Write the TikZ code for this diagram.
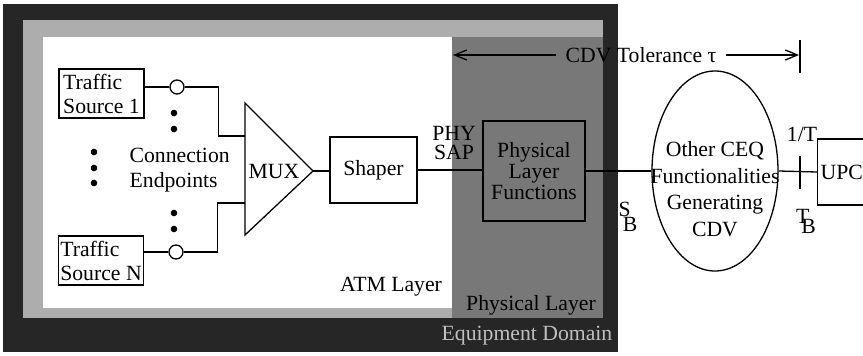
\documentclass[tikz,border=0pt]{standalone}
\usepackage{fontspec}
\setmainfont{Liberation Serif}
\usetikzlibrary{arrows.meta,shapes.geometric}

\definecolor{domaingray}{gray}{0.15}
\definecolor{physgray}{gray}{0.47}
\definecolor{bandgray}{gray}{0.68}

\tikzset{
	box/.style={draw,line width=1.3pt,inner sep=0pt},
	srcbox/.style={box,minimum width=85pt,minimum height=49pt,align=left,font=\fontsize{21.7}{24}\selectfont},
	port/.style={circle,draw,fill=white,line width=1.3pt,minimum size=14pt,inner sep=0pt},
	label/.style={inner sep=0pt,align=center}
}

\begin{document}
\begin{tikzpicture}[x=1pt,y=-1pt,line width=1.3pt,font=\fontsize{21.7}{25}\selectfont]
	
	\useasboundingbox (0,0) rectangle (863,356);
	\clip (0,0) rectangle (863,356);
	
	\fill[domaingray] (3,4) rectangle (618,352);
	\fill[bandgray] (23,20) rectangle (603,318);
	\fill[physgray] (452,37) rectangle (603,318);
	\fill[white] (43,37) rectangle (452,308);
	
	\node[label,text=gray!50] (domain) at (527,336) {Equipment Domain};
	\node[label] (phylayer) at (531,305) {Physical Layer};
	\node[label] (atmlayer) at (391,287) {ATM Layer};
	
	\node[srcbox] (src1) at (101.5,93.5) {Traffic\\Source 1};
	\node[srcbox] (srcN) at (101,260.5) {Traffic\\Source N};
	\node[port] (port1) at (177,87) {};
	\node[port] (portN) at (176,252) {};
	
	\foreach \y in {113,129} \fill (174,\y) circle (3.3pt);
	\foreach \y in {213,229} \fill (174,\y) circle (3.3pt);
	\foreach \y in {152,168,183} \fill (94,\y) circle (3.3pt);
	\node[label,align=left,anchor=west] (endpoints) at (129,170) {Connection\\Endpoints};
	
	\coordinate (muxtop) at (245,103);
	\coordinate (muxbot) at (245,235);
	\coordinate (muxtip) at (313,171);
	\coordinate (muxin1) at (245,136);
	\coordinate (muxinN) at (245,203);
	\draw (muxtop) -- (muxtip) -- (muxbot) -- cycle;
	\node[label,anchor=west] (mux) at (248,172) {MUX};
	
	\draw (src1.east |- port1) -- (port1.west);
	\draw (srcN.east |- portN) -- (portN.west);
	\draw (port1.east) -- ++(34,0) |- (muxin1);
	\draw (portN.east) -- ++(34,0) |- (muxinN);
	
	\node[box,minimum width=87pt,minimum height=66pt] (shaper) at (373.5,170) {Shaper};
	\node[box,minimum width=102pt,minimum height=100pt,align=center,font=\fontsize{21.7}{21}\selectfont] (phyfun) at (534,171) {Physical\\Layer\\Functions};
	\node[label,font=\fontsize{21.7}{19.5}\selectfont] (sap) at (454,143) {PHY\\SAP};
	\draw (muxtip) -- (muxtip -| shaper.west);
	\draw (shaper.east) -- (shaper.east -| phyfun.west);
	
	\node[ellipse,draw,line width=1.3pt,minimum width=126pt,minimum height=200pt,inner sep=0pt] (ceq) at (715,171) {};
	\node[label,font=\fontsize{21.7}{26.5}\selectfont] (ceqtext) at (715,189) {Other CEQ\\Functionalities\\Generating\\CDV};
	\node[box,anchor=west,minimum height=66pt,inner xsep=3pt,text width=80pt] (upc) at (817,172) {UPC};
	\draw (phyfun.east) -- (ceq.west);
	\draw (ceq.east) -- (upc.west);
	\draw (800,156) -- (800,189);
	
	\node[label] (sb) at (628,217) {S\kern-8pt\raisebox{-15pt}{B}};
	\node[label] (tb) at (806,221) {T\kern-8pt\raisebox{-10pt}{B}};
	\node[label] (rate) at (802,134) {1/T};
	
	\node[inner xsep=9pt,inner ysep=0pt] (cdv) at (641,55) {CDV Tolerance τ};
	\coordinate (cdvleft) at (453,55);
	\coordinate (cdvright) at (799,55);
	\draw[-{Straight Barb[length=12pt,width=10pt]}] (cdv.west) -- (cdvleft);
	\draw[-{Straight Barb[length=12pt,width=10pt]}] (cdv.east) -- (cdvright);
	\draw (800,40) -- (800,73);
	
\end{tikzpicture}
\end{document}
